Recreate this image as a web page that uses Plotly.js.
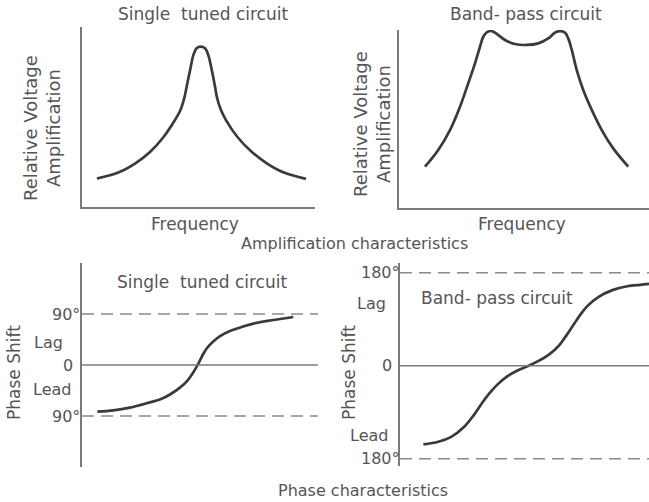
<!DOCTYPE html>
<html>
<head>
<meta charset="utf-8">
<script src="https://cdn.plot.ly/plotly-3.0.1.min.js"></script>
<style>html,body{margin:0;padding:0;background:#fff;}#chart{width:649px;height:502px;}</style>
</head>
<body>
<div id="chart"></div>
<script>
// ---- Data (arbitrary frequency units 0-100) ----
const tunedFreq = [6.4,15.8,22.9,29.3,35.0,39.9,42.3,44.0,44.9,46.4,47.8,49.2,50.9,52.8,54.2,55.7,57.1,57.9,59.6,61.8,66.7,72.8,79.3,86.4,96.1];
const tunedAmp  = [15.8,19.3,24.3,30.7,38.9,48.3,54.0,61.0,66.8,76.1,84.4,88.2,89.1,88.2,84.4,76.1,66.8,61.0,54.0,48.3,38.9,30.7,24.3,19.3,15.6];

const bandFreq = [10.4,15.7,20.4,24.4,27.7,30.4,32.4,33.7,35.1,37.1,39.1,42.4,46.4,51.1,55.7,59.7,62.4,64.4,66.4,67.7,69.1,71.1,73.7,77.1,81.1,85.7,91.7];
const bandAmp  = [23.2,32.6,43.8,56.9,70.1,81.3,90.6,96.2,98.7,99.4,97.8,94.4,92.1,91.6,92.5,95.3,98.5,99.4,98.5,95.3,88.8,77.5,66.3,55.1,43.8,33.5,23.2];

const tunedPhaseFreq = [6.5,13.3,20.3,27.4,33.5,37.3,41.5,44.6,47.0,48.6,50.0,51.3,53.0,55.5,58.5,62.7,68.3,72.6,81.1,89.5];
const tunedPhase     = [-82.2,-80.0,-75.2,-67.6,-60.0,-52,-40,-28,-14,-3,8,19,30,41,51,60,67.8,73.1,79.4,84.7];

const bandPhaseFreq = [9.4,15.4,20.4,25.8,29.7,33.1,35.8,39.2,43.2,47.2,51.2,56.2,60.2,64.0,66.9,69.6,72.3,75.3,79.8,85.3,91.3,96.4,100];
const bandPhase     = [-152.1,-147.1,-138,-118,-95,-71,-54,-36,-20,-9,-1,11,23,40,59.4,78.8,98.1,116,133.5,146.5,154,156.8,158.5];

// reference levels (degrees)
const tunedRefs = [90, -90];
const bandRefs  = [180, -180];

// side labels (text, level in degrees)
const tunedLabels = ["90°", "Lag", "0", "Lead", "90°"];
const tunedLabelLevels = [90, 40, 0, -43, -90];
const bandLabels = ["180°", "Lag", "0", "Lead", "180°"];
const bandLabelLevels = [180, 121, 0, -134, -180];

// ---- Layout helpers ----
const W = 649, H = 502;
const fx = p => p / W;
const fy = p => 1 - p / H;
const INK = '#3a3a3a', TXT = '#555555', AX = '#7a7a7a', DASH = '#8a8a8a';
const FONT = 'DejaVu Sans';
const NB = '\u00A0';

function curve(x, y, xa, ya) {
  return {x: x, y: y, xaxis: xa, yaxis: ya, type: 'scatter', mode: 'lines',
          line: {color: INK, width: 2.7, shape: 'spline', smoothing: 1.0},
          hoverinfo: 'skip', showlegend: false};
}

const traces = [
  curve(tunedFreq, tunedAmp, 'x', 'y'),
  curve(bandFreq, bandAmp, 'x2', 'y2'),
  curve(tunedPhaseFreq, tunedPhase, 'x3', 'y3'),
  curve(bandPhaseFreq, bandPhase, 'x4', 'y4')
];

function ax(domain, range, anchor, showline) {
  return {domain: domain, range: range, anchor: anchor, showline: showline,
          linecolor: AX, linewidth: 1.6, showgrid: false, zeroline: false,
          showticklabels: false, ticks: '', fixedrange: true};
}

const shapes = [];
tunedRefs.forEach(v => shapes.push({type: 'line', xref: 'x3 domain', yref: 'y3', x0: 0, x1: 1, y0: v, y1: v,
  line: {color: DASH, width: 1.6, dash: '12px,7px'}}));
bandRefs.forEach(v => shapes.push({type: 'line', xref: 'x4 domain', yref: 'y4', x0: 0, x1: 1, y0: v, y1: v,
  line: {color: DASH, width: 1.6, dash: '12px,7px'}}));
shapes.push({type: 'line', xref: 'x3 domain', yref: 'y3', x0: 0, x1: 1, y0: 0, y1: 0, line: {color: AX, width: 1.5}});
shapes.push({type: 'line', xref: 'x4 domain', yref: 'y4', x0: 0, x1: 1, y0: 0, y1: 0, line: {color: AX, width: 1.5}});

function txt(text, x, y, opts, size) {
  return Object.assign({text: text, xref: 'paper', yref: 'paper', x: fx(x), y: fy(y),
    showarrow: false, xanchor: 'center', yanchor: 'middle',
    font: {family: FONT, size: size || 16, color: TXT}}, opts || {});
}

const annotations = [
  txt('Single' + NB + NB + 'tuned' + NB + 'circuit', 203, 14, {}, 17),
  txt('Band-' + NB + 'pass' + NB + 'circuit', 526, 14, {}, 17),
  txt('Relative Voltage<br>Amplification', 42, 128, {textangle: -90}, 18),
  txt('Relative Voltage<br>Amplification', 372, 124, {textangle: -90}, 18),
  txt('Frequency', 195, 224, {}, 17),
  txt('Frequency', 522, 224, {}, 17),
  txt('Amplification characteristics', 354, 243),
  txt('Single' + NB + NB + 'tuned' + NB + 'circuit', 202, 282, {}, 17),
  txt('Band-' + NB + 'pass' + NB + 'circuit', 497, 298, {}, 17),
  txt('Phase Shift', 14, 373, {textangle: -90}, 17),
  txt('Phase Shift', 349, 373, {textangle: -90}, 17),
  txt('Phase characteristics', 363, 490)
];
const tunedLabelX = [66, 48, 68, 52, 66];
tunedLabels.forEach((t, i) => annotations.push({text: t, xref: 'paper', yref: 'y3', x: fx(tunedLabelX[i]), y: tunedLabelLevels[i],
  showarrow: false, xanchor: 'center', yanchor: 'middle', font: {family: FONT, size: 16, color: TXT}}));
const bandLabelX = [380, 371, 387, 369, 380];
bandLabels.forEach((t, i) => annotations.push({text: t, xref: 'paper', yref: 'y4', x: fx(bandLabelX[i]), y: bandLabelLevels[i],
  showarrow: false, xanchor: 'center', yanchor: 'middle', font: {family: FONT, size: 16, color: TXT}}));

const layout = {
  width: W, height: H, margin: {l: 0, r: 0, t: 0, b: 0},
  paper_bgcolor: '#ffffff', plot_bgcolor: 'rgba(0,0,0,0)', showlegend: false,
  font: {family: FONT, color: TXT},
  xaxis:  ax([fx(82), fx(315)], [0, 100], 'y', true),
  yaxis:  ax([fy(207), fy(27)], [0, 100], 'x', true),
  xaxis2: ax([fx(399), 1], [0, 100], 'y2', true),
  yaxis2: ax([fy(208), fy(30)], [0, 100], 'x2', true),
  xaxis3: ax([fx(82), fx(318)], [0, 100], 'y3', false),
  yaxis3: ax([fy(467), fy(263)], [-180, 180], 'x3', true),
  xaxis4: ax([fx(400), 1], [0, 100], 'y4', false),
  yaxis4: ax([fy(466), fy(263)], [-194, 199], 'x4', true),
  shapes: shapes,
  annotations: annotations
};

Plotly.newPlot('chart', traces, layout, {staticPlot: true, displayModeBar: false});
</script>
</body>
</html>
